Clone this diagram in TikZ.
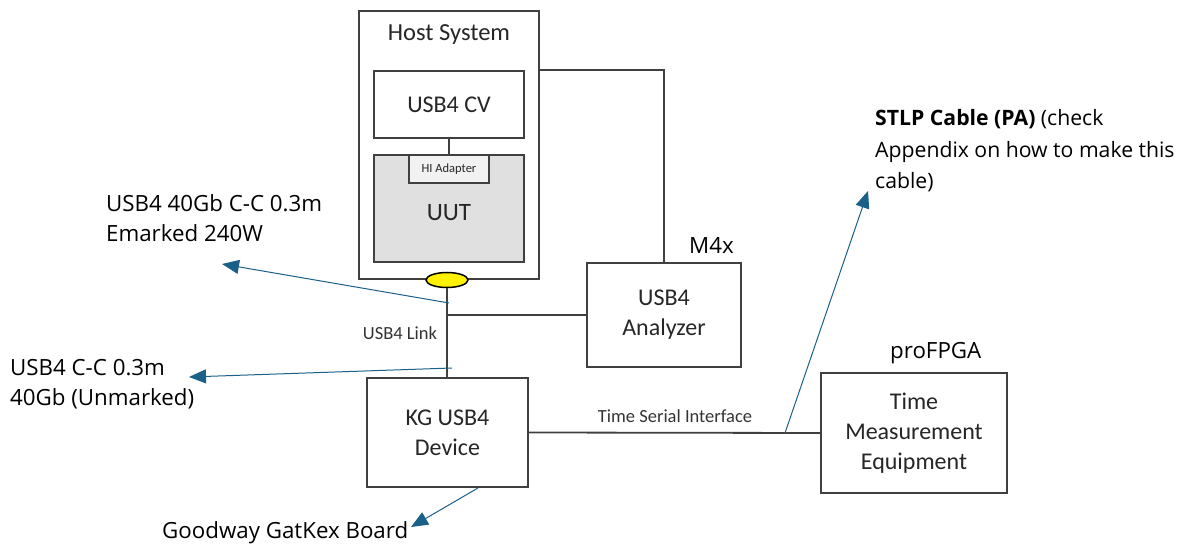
\documentclass[tikz,border=0pt]{standalone}
\usepackage{fontspec}
\setmainfont{Open Sans}
\newfontfamily\boxfont{Carlito}
\usetikzlibrary{arrows.meta,shapes.geometric}
\definecolor{linegray}{HTML}{404040}
\definecolor{arrowblue}{HTML}{1B6089}
\definecolor{uutgray}{HTML}{E0E0E0}
\tikzset{
  boxstyle/.style={draw=linegray, line width=1.6pt, fill=white, rectangle, inner sep=0pt, align=center, font=\boxfont\fontsize{24}{30}\selectfont, text=black!85},
  wire/.style={draw=linegray, line width=1.8pt},
  callout/.style={draw=arrowblue, line width=1pt, -{Triangle[length=17pt,width=14pt]}},
  lbl/.style={anchor=west, align=left, inner sep=0pt, font=\fontsize{22.3}{30.5}\selectfont, text=black},
  smalllbl/.style={inner sep=0pt, font=\boxfont\fontsize{18.5}{20}\selectfont, text=black!80}
}
\begin{document}
\begin{tikzpicture}[x=1pt,y=-1pt]
\useasboundingbox (0,0) rectangle (1187,545);
% host
\node[boxstyle, line width=2pt, minimum width=180pt, minimum height=268pt] (host) at (449,145) {};
\node[inner sep=0pt, font=\boxfont\fontsize{24.5}{26}\selectfont, text=black!85] (hosttxt) at (449,35) {Host System};
\node[boxstyle, minimum width=150pt, minimum height=67pt] (cv) at (449,104.5) {USB4 CV};
\node[boxstyle, fill=uutgray, minimum width=150pt, minimum height=107pt] (uut) at (449,208.5) {};
\node[inner sep=0pt, font=\boxfont\fontsize{25}{26}\selectfont, text=black!85] (uuttxt) at (449,213) {UUT};
\node[boxstyle, fill=black!5, minimum width=80pt, minimum height=28pt, font=\boxfont\fontsize{12.5}{13}\selectfont] (hi) at (449,169) {HI Adapter};
\draw[wire] (cv.south) -- (hi.north);
% analyzer
\node[boxstyle, minimum width=154pt, minimum height=104pt] (an) at (664,315) {USB4\\Analyzer};
\draw[wire] (host.east |- cv.north) -| (an.north);
% ellipse
\node[ellipse, draw=black, fill=yellow, line width=1.5pt, minimum width=42pt, minimum height=15pt, inner sep=0pt] (ell) at (447,280) {};
% KG device
\node[boxstyle, minimum width=161pt, minimum height=109pt] (kg) at (447.5,432.5) {KG USB4\\Device};
\draw[wire] (ell.south) -- (ell.south |- kg.north);
\draw[wire] (ell.south |- an.west) -- (an.west);
% TME
\node[boxstyle, minimum width=186pt, minimum height=120pt] (tme) at (914,433) {Time\\Measurement\\Equipment};
\draw[wire] (kg.east) -- (tme.west);
% small labels
\node[smalllbl] (link) at (400,333) {USB4 Link};
\node[smalllbl] (tsi) at (675,416) {Time Serial Interface};
\node[lbl] (m4x) at (689,245) {M4x};
\node[lbl] (pro) at (890,353) {proFPGA};
% callout labels
\node[lbl] (c1) at (106,218) {USB4 40Gb C-C 0.3m\\Emarked 240W};
\node[lbl] (c2) at (10,384) {USB4 C-C 0.3m\\40Gb (Unmarked)};
\node[lbl, font=\fontsize{21.2}{31.5}\selectfont] (c3) at (875,151) {\textbf{STLP Cable (PA)} (check\\Appendix on how to make this\\cable)};
\node[lbl] (c4) at (162,533) {Goodway GatKex Board};
% callout arrows
\coordinate (a1s) at (449,303);
\coordinate (a1e) at (222,264);
\coordinate (a2s) at (452,368);
\coordinate (a2e) at (189,377);
\coordinate (a3s) at (785,433);
\coordinate (a3e) at (868,191);
\coordinate (a4s) at (478,488);
\coordinate (a4e) at (411,527);
\draw[callout] (a1s) -- (a1e);
\draw[callout] (a2s) -- (a2e);
\draw[callout] (a3s) -- (a3e);
\draw[callout] (a4s) -- (a4e);
\end{tikzpicture}
\end{document}
